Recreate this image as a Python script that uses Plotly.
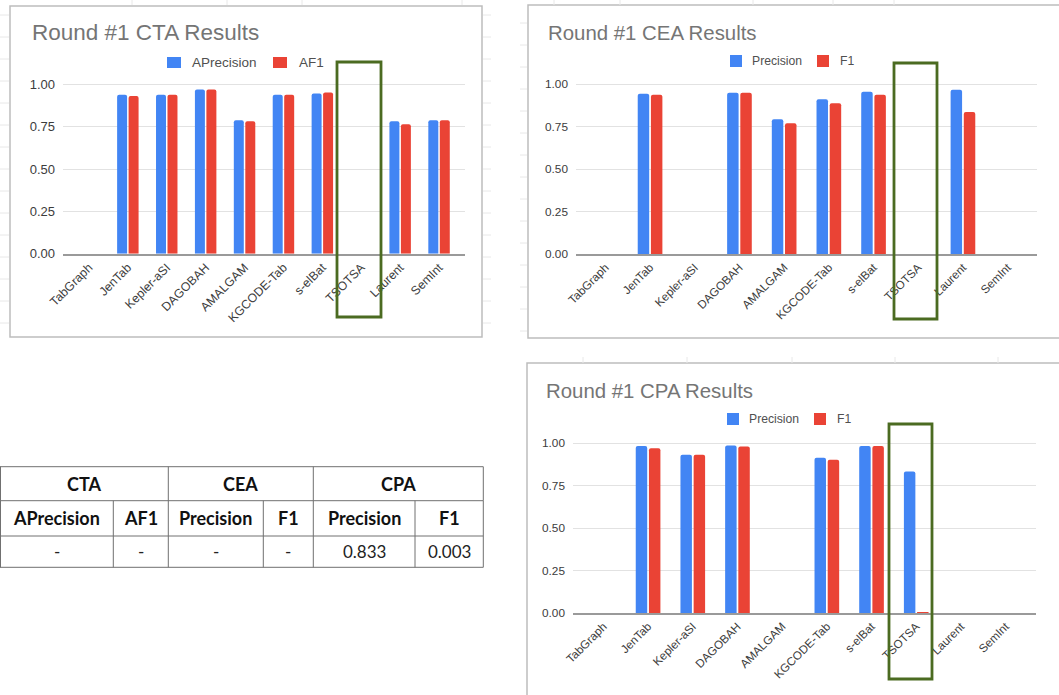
import plotly.graph_objects as go

W, H = 1059, 695

# ---- data -------------------------------------------------------------
systems = ["TabGraph", "JenTab", "Kepler-aSI", "DAGOBAH", "AMALGAM",
           "KGCODE-Tab", "s-elBat", "TSOTSA", "Laurent", "SemInt"]

cta_aprecision = [None, 0.939, 0.939, 0.969, 0.788, 0.939, 0.945, None, 0.782, 0.788]
cta_af1 = [None, 0.931, 0.939, 0.969, 0.782, 0.939, 0.951, None, 0.764, 0.788]

cea_precision = [None, 0.945, None, 0.951, 0.794, 0.912, 0.956, None, 0.968, None]
cea_f1 = [None, 0.939, None, 0.951, 0.771, 0.888, 0.939, None, 0.837, None]

cpa_precision = [None, 0.982, 0.931, 0.986, None, 0.914, 0.982, 0.833, None, None]
cpa_f1 = [None, 0.969, 0.931, 0.980, None, 0.902, 0.982, 0.003, None, None]

y_ticks = [0, 0.25, 0.5, 0.75, 1.0]
y_tick_labels = ["0.00", "0.25", "0.50", "0.75", "1.00"]

table_groups = ["CTA", "CEA", "CPA"]
table_metrics = ["APrecision", "AF1", "Precision", "F1", "Precision", "F1"]
tsotsa_scores = ["-", "-", "-", "-", "0.833", "0.003"]

# ---- styling ------------------------------------------------------------
BLUE = "#4285F4"
RED = "#EA4335"
GREEN = "#4B6B21"
CHART_FONT = "Liberation Sans"
TABLE_FONT = "Lato"


def fx(px):
    return px / W


def fy(py):
    return 1 - py / H


# pixel geometry of each chart panel
panels = [
    dict(name="CTA", series=(("APrecision", cta_aprecision), ("AF1", cta_af1)),
         box=(10, 6, 482, 337), plot_x=(63, 465), zero=253.7, unit=169.4, ext=0.167,
         title_xy=(30, 33), title_size=22.5, tick_size=13, xtick_size=12.3, leg_size=13.5,
         leg=[(167, 181, 190), (273, 287, 297)], leg_y=(57, 68),
         hl=(337, 62, 381, 317)),
    dict(name="CEA", series=(("Precision", cea_precision), ("F1", cea_f1)),
         box=(528, 5, 1062, 338), plot_x=(576, 1037), zero=254.3, unit=170.0, ext=0.157,
         title_xy=(545.5, 32.5), title_size=20.4, tick_size=11.8, xtick_size=11.7, leg_size=12.2,
         leg=[(730, 742, 750), (817, 829, 838)], leg_y=(55, 67),
         hl=(894, 63, 937, 319)),
    dict(name="CPA", series=(("Precision", cpa_precision), ("F1", cpa_f1)),
         box=(527, 363, 1062, 700), plot_x=(573, 1036), zero=613.3, unit=170.3, ext=0.18,
         title_xy=(544, 390.5), title_size=20.4, tick_size=11.8, xtick_size=11.7, leg_size=12.2,
         leg=[(727, 739, 747), (814, 826, 835)], leg_y=(413, 425),
         hl=(889, 424, 932, 679)),
]

fig = go.Figure()
shapes = []
annotations = []

# faint spreadsheet grid peeking out around the chart panels
GRID = dict(color="#e8e8e8", width=1)
for gx in (132, 227, 302, 462, 554, 620, 753, 833, 894):
    shapes.append(dict(type="line", xref="paper", yref="paper", x0=fx(gx), x1=fx(gx),
                       y0=fy(0), y1=fy(5), line=GRID))
for gx in (583, 687, 792, 895, 998):
    shapes.append(dict(type="line", xref="paper", yref="paper", x0=fx(gx), x1=fx(gx),
                       y0=fy(357), y1=fy(363), line=GRID))
for gy in range(15, 336, 22):
    shapes.append(dict(type="line", xref="paper", yref="paper", x0=0, x1=fx(9),
                       y0=fy(gy), y1=fy(gy), line=GRID))
    shapes.append(dict(type="line", xref="paper", yref="paper", x0=fx(483), x1=fx(491),
                       y0=fy(gy), y1=fy(gy), line=GRID))
    shapes.append(dict(type="line", xref="paper", yref="paper", x0=fx(520), x1=fx(527),
                       y0=fy(gy + 8), y1=fy(gy + 8), line=GRID))

for i, p in enumerate(panels, start=1):
    xa = "x" if i == 1 else f"x{i}"
    ya = "y" if i == 1 else f"y{i}"
    xkey = "xaxis" if i == 1 else f"xaxis{i}"
    ykey = "yaxis" if i == 1 else f"yaxis{i}"
    colors = (BLUE, RED)
    for (label, vals), col in zip(p["series"], colors):
        fig.add_trace(go.Bar(x=systems, y=vals, name=label, marker_color=col,
                             marker_line_width=0, xaxis=xa, yaxis=ya, showlegend=False))

    ymax = 1.1
    top_px = p["zero"] - ymax * p["unit"]
    fig.layout[xkey] = dict(
        domain=[fx(p["plot_x"][0]), fx(p["plot_x"][1])], anchor=ya, automargin=False,
        type="category", range=[-0.5 - p["ext"], len(systems) - 0.5 + p["ext"]],
        showgrid=False, showline=True, linecolor="#9a9a9a", linewidth=1.6,
        ticks="", tickangle=-45, fixedrange=True,
        tickfont=dict(family=CHART_FONT, size=p["xtick_size"], color="#3c3c3c"),
    )
    fig.layout[ykey] = dict(
        domain=[fy(p["zero"]), fy(top_px)], anchor=xa, range=[0, ymax], automargin=False,
        tickvals=y_ticks, ticktext=y_tick_labels, showgrid=True,
        gridcolor="#e2e2e2", gridwidth=1.3, zeroline=False, showline=False,
        ticks="", ticklabelstandoff=7,
        tickfont=dict(family=CHART_FONT, size=p["tick_size"], color="#3c3c3c"),
    )

    # panel frame
    x0, y0, x1, y1 = p["box"]
    shapes.append(dict(type="rect", xref="paper", yref="paper", layer="below",
                       x0=fx(x0), x1=fx(x1), y0=fy(y1), y1=fy(y0),
                       line=dict(color="#bdbdbd", width=1.5), fillcolor="white"))

    # chart title
    tx, ty = p["title_xy"]
    annotations.append(dict(text=f"Round #1 {p['name']} Results", xref="paper", yref="paper",
                            x=fx(tx), y=fy(ty), xanchor="left", yanchor="middle",
                            showarrow=False,
                            font=dict(family=CHART_FONT, size=p["title_size"], color="#757575")))

    # legend keys
    ly0, ly1 = p["leg_y"]
    for (label, _), col, (sx0, sx1, tx0) in zip(p["series"], colors, p["leg"]):
        shapes.append(dict(type="rect", xref="paper", yref="paper",
                           x0=fx(sx0), x1=fx(sx1), y0=fy(ly1), y1=fy(ly0),
                           fillcolor=col, line=dict(width=0)))
        annotations.append(dict(text=label, xref="paper", yref="paper",
                                x=fx(tx0), y=fy((ly0 + ly1) / 2), xanchor="left",
                                yanchor="middle", showarrow=False,
                                font=dict(family=CHART_FONT, size=p["leg_size"], color="#505050")))

    # outline around the highlighted system
    hx0, hy0, hx1, hy1 = p["hl"]
    shapes.append(dict(type="rect", xref="paper", yref="paper",
                       x0=fx(hx0), x1=fx(hx1), y0=fy(hy1), y1=fy(hy0),
                       line=dict(color=GREEN, width=2.8), fillcolor="rgba(0,0,0,0)"))

# ---- score table for the highlighted system -------------------------------
row_y = [466.7, 500.7, 536, 567.3]
group_x = [0.5, 168.3, 313.3, 483.3]
sub_x = [0.5, 113.3, 168.3, 263.3, 313.3, 415, 483.3]
TL = dict(color="#707070", width=1)

for yy in row_y:
    shapes.append(dict(type="line", xref="paper", yref="paper", x0=fx(0), x1=fx(483.3),
                       y0=fy(yy), y1=fy(yy), line=TL))
for xx in group_x:
    shapes.append(dict(type="line", xref="paper", yref="paper", x0=fx(xx), x1=fx(xx),
                       y0=fy(row_y[0]), y1=fy(row_y[1]), line=TL))
for xx in sub_x:
    shapes.append(dict(type="line", xref="paper", yref="paper", x0=fx(xx), x1=fx(xx),
                       y0=fy(row_y[1]), y1=fy(row_y[3]), line=TL))

for g, (a, b) in zip(table_groups, zip(group_x[:-1], group_x[1:])):
    annotations.append(dict(text=f"<b>{g}</b>", xref="paper", yref="paper",
                            x=fx((a + b) / 2), y=fy((row_y[0] + row_y[1]) / 2),
                            xanchor="center", yanchor="middle", showarrow=False,
                            font=dict(family=TABLE_FONT, size=18, color="#111111")))
for k, (a, b) in enumerate(zip(sub_x[:-1], sub_x[1:])):
    annotations.append(dict(text=f"<b>{table_metrics[k]}</b>", xref="paper", yref="paper",
                            x=fx((a + b) / 2), y=fy((row_y[1] + row_y[2]) / 2),
                            xanchor="center", yanchor="middle", showarrow=False,
                            font=dict(family=TABLE_FONT, size=18, color="#111111")))
    annotations.append(dict(text=tsotsa_scores[k], xref="paper", yref="paper",
                            x=fx((a + b) / 2), y=fy((row_y[2] + row_y[3]) / 2),
                            xanchor="center", yanchor="middle", showarrow=False,
                            font=dict(family=TABLE_FONT, size=17, color="#222222")))

fig.update_layout(
    width=W, height=H, margin=dict(l=0, r=0, t=0, b=0),
    paper_bgcolor="white", plot_bgcolor="rgba(0,0,0,0)",
    barmode="group", bargap=0.41, bargroupgap=0.13, barcornerradius=2,
    showlegend=False, shapes=shapes, annotations=annotations,
)

fig.write_html("out.html")
